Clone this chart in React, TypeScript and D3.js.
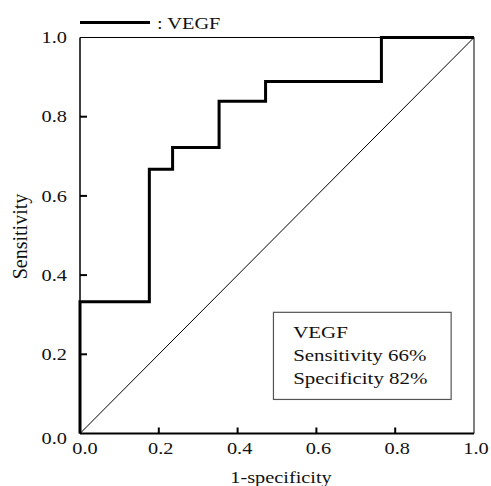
import React from 'react';
import * as d3 from 'd3';

// ROC points for VEGF (1-specificity, sensitivity)
const fprValues = [0, 0, 0.176, 0.235, 0.353, 0.471, 0.765, 1.0];
const tprValues = [0, 0.333, 0.667, 0.722, 0.839, 0.889, 1.0, 1.0];
const tickValues = [0, 0.2, 0.4, 0.6, 0.8, 1.0];
const seriesName = 'VEGF';
const boxLines = ['VEGF', 'Sensitivity 66%', 'Specificity 82%'];

const W = 491;
const H = 486;
const margin = { top: 37.5, right: 17, bottom: 52.5, left: 80 };
const font = "'Liberation Serif', 'Times New Roman', Times, serif";
const stretch = 1.27; // the source text is set in a wide serif

type TxtProps = {
  x: number;
  y: number;
  size?: number;
  anchor?: 'start' | 'middle' | 'end';
  rotate?: number;
  sx?: number;
  dy?: string;
  children: React.ReactNode;
};

const Txt = ({ x, y, size = 16, anchor = 'start', rotate = 0, sx = stretch, dy, children }: TxtProps) => (
  <text
    transform={`translate(${x},${y}) rotate(${rotate}) scale(${sx},1)`}
    fontSize={size}
    textAnchor={anchor}
    dy={dy}
    fill="#111"
    style={{ fontFamily: font }}
  >
    {children}
  </text>
);

const App = () => {
  const innerW = W - margin.left - margin.right;
  const innerH = H - margin.top - margin.bottom;

  const x = d3.scaleLinear().domain([0, 1]).range([0, innerW]);
  const y = d3.scaleLinear().domain([0, 1]).range([innerH, 0]);

  const pts: [number, number][] = fprValues.map((f, i) => [f, tprValues[i]]);
  const line = d3
    .line<[number, number]>()
    .x(d => x(d[0]))
    .y(d => y(d[1]))
    .curve(d3.curveStepAfter);

  const fmt = d3.format('.1f');

  return (
    <svg width={W} height={H} style={{ position: 'absolute', left: 0, top: 0, background: '#fff' }}>
      {/* legend */}
      <line x1={80} x2={150} y1={22.5} y2={22.5} stroke="#000" strokeWidth={3} />
      <Txt x={157} y={28.5}>: {seriesName}</Txt>

      <g transform={`translate(${margin.left},${margin.top})`}>
        {/* frame */}
        <line x1={0} x2={innerW} y1={0} y2={0} stroke="#000" strokeWidth={1} />
        <line x1={innerW} x2={innerW} y1={0} y2={innerH} stroke="#000" strokeWidth={1} />
        <line x1={0} x2={0} y1={0} y2={innerH} stroke="#000" strokeWidth={1.5} />
        <line x1={0} x2={innerW} y1={innerH} y2={innerH} stroke="#000" strokeWidth={2} />

        {/* inward ticks */}
        {tickValues.slice(1, -1).map(t => (
          <line key={'xt' + t} x1={x(t)} x2={x(t)} y1={innerH} y2={innerH - 6} stroke="#000" strokeWidth={2} />
        ))}
        {tickValues.slice(1, -1).map(t => (
          <line key={'yt' + t} x1={0} x2={7} y1={y(t)} y2={y(t)} stroke="#000" strokeWidth={2} />
        ))}

        {/* tick labels */}
        {tickValues.map(t => (
          <Txt key={'xl' + t} x={x(t) + (t === 0 ? 5 : 2)} y={innerH + 20} anchor="middle">
            {fmt(t)}
          </Txt>
        ))}
        {tickValues.map(t => (
          <Txt key={'yl' + t} x={-13} y={y(t) + (t === 0 ? 5 : 0)} dy="0.35em" anchor="end">
            {fmt(t)}
          </Txt>
        ))}

        {/* reference diagonal */}
        <line x1={x(0)} y1={y(0)} x2={x(1)} y2={y(1)} stroke="#000" strokeWidth={1} />

        {/* ROC curve */}
        <path d={line(pts) || ''} fill="none" stroke="#000" strokeWidth={3} />

        {/* annotation box */}
        <rect x={x(0.491)} y={y(0.306)} width={x(0.451)} height={innerH - y(0.22)} fill="#fff" stroke="#555" strokeWidth={1.2} />
        {boxLines.map((s, i) => (
          <Txt key={s} x={x(0.541)} y={y(0.24) + i * 23} size={16.5}>
            {s}
          </Txt>
        ))}

        {/* axis titles */}
        <Txt x={innerW / 2 + 4} y={innerH + 49} anchor="middle">1-specificity</Txt>
        <Txt x={-53.5} y={innerH / 2 + 1} size={20} sx={1} anchor="middle" rotate={-90}>Sensitivity</Txt>
      </g>
    </svg>
  );
};

export default App;
